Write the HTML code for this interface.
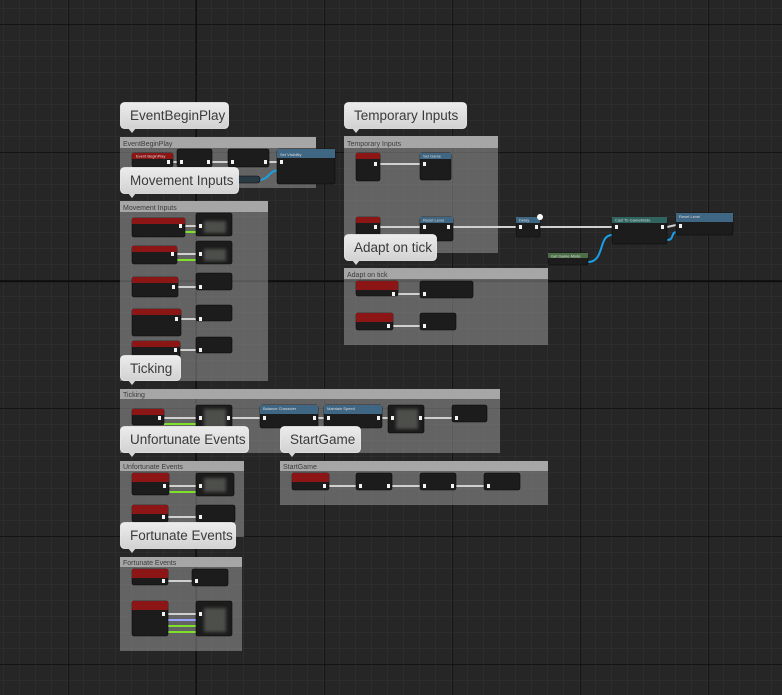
<!DOCTYPE html>
<html><head><meta charset="utf-8"><style>
html,body{margin:0;padding:0;width:782px;height:695px;overflow:hidden;background:#262626}
svg{display:block}
.b{font-family:"Liberation Sans",sans-serif;font-size:13.5px;fill:#3a3a3a}
.h{font-family:"Liberation Sans",sans-serif;font-size:7px;fill:#3c3c3c}
.t{font-family:"Liberation Sans",sans-serif;font-size:4px;fill:#ddd}
</style></head><body>
<svg width="782" height="695" viewBox="0 0 782 695" xmlns="http://www.w3.org/2000/svg">
<defs>
<pattern id="mn" x="3" y="8" width="16" height="16" patternUnits="userSpaceOnUse">
<path d="M0 0H16M0 0V16" stroke="#343434" stroke-width="1" fill="none"/></pattern>
<pattern id="mj" x="68" y="24" width="128" height="128" patternUnits="userSpaceOnUse">
<path d="M0 0.5H128M0.5 0V128" stroke="#141414" stroke-width="1" fill="none"/></pattern>
<linearGradient id="bg" x1="0" y1="0" x2="0" y2="1"><stop offset="0" stop-color="#ececec"/><stop offset="1" stop-color="#d2d2d2"/></linearGradient>
<filter id="bl"><feGaussianBlur stdDeviation="1.5"/></filter>
</defs>
<rect width="782" height="695" fill="#262626"/>
<rect width="782" height="695" fill="url(#mn)"/>
<rect width="782" height="695" fill="url(#mj)"/>
<path d="M196 0V695M0 281.5H782" stroke="#0e0e0e" stroke-width="1.5"/>

<!-- comment boxes -->
<g fill="rgba(150,150,150,0.55)">
<rect x="120" y="137" width="196" height="51"/>
<rect x="120" y="201" width="148" height="180"/>
<rect x="344" y="136" width="154" height="117"/>
<rect x="344" y="268" width="204" height="77"/>
<rect x="120" y="389" width="380" height="64"/>
<rect x="120" y="461" width="124" height="76"/>
<rect x="280" y="461" width="268" height="44"/>
<rect x="120" y="557" width="122" height="94"/>
</g>
<g fill="#a6a6a6">
<rect x="120" y="137" width="196" height="11"/>
<rect x="120" y="201" width="148" height="11"/>
<rect x="344" y="136" width="154" height="12"/>
<rect x="344" y="268" width="204" height="11"/>
<rect x="120" y="389" width="380" height="10"/>
<rect x="120" y="461" width="124" height="10"/>
<rect x="280" y="461" width="268" height="10"/>
<rect x="120" y="557" width="122" height="10"/>
</g>
<g class="h">
<text x="123" y="146">EventBeginPlay</text>
<text x="123" y="210">Movement Inputs</text>
<text x="347" y="146">Temporary Inputs</text>
<text x="347" y="277">Adapt on tick</text>
<text x="123" y="397">Ticking</text>
<text x="123" y="469">Unfortunate Events</text>
<text x="283" y="469">StartGame</text>
<text x="123" y="565">Fortunate Events</text>
</g>

<!-- wires -->
<g stroke="#d0d0d0" stroke-width="2" fill="none">
<path d="M173 162H177M212 162H228M269 162H277"/>
<path d="M185 226H196M177 254H196M178 287H196M181 319H196M180 350H196"/>
<path d="M380 164H420M380 227H420M453 227H516M540 227H612M667 227L676 225"/>
<path d="M398 294H420M393 326H420"/>
<path d="M164 418H196M232 418H260M318 418H324M382 418H388M424 418H452"/>
<path d="M169 486H196M168 517H196"/>
<path d="M329 486H356M392 486H420M456 486H484"/>
<path d="M168 581H192M168 614H196"/>
</g>
<g stroke="#7fe02a" stroke-width="2" fill="none">
<path d="M185 232H196M177 260H196M164 424H196M169 492H196M168 626H196M168 632H196"/>
</g>
<path d="M168 620H196" stroke="#9aa4ff" stroke-width="2"/>
<g stroke="#1aa0e8" stroke-width="2" fill="none">
<path d="M258 180C270 180 268 170 280 170"/>
<path d="M588 262C605 262 598 235 612 235"/>
<path d="M667 240C675 240 670 232 677 232"/>
</g>

<!-- nodes -->
<g>
<!-- helper style: body, header -->
<g fill="#1b1c1b" stroke="#0a0a0a" stroke-width="0.6">
<rect x="132" y="153" width="41" height="14" rx="2"/>
<rect x="177" y="149" width="35" height="18" rx="2"/>
<rect x="228" y="149" width="41" height="18" rx="2"/>
<rect x="277" y="149" width="58" height="35" rx="2"/>
<rect x="230" y="176" width="30" height="7" rx="3" fill="#2a3a44"/>
<rect x="132" y="218" width="53" height="19" rx="2"/>
<rect x="132" y="246" width="45" height="18" rx="2"/>
<rect x="132" y="277" width="46" height="20" rx="2"/>
<rect x="132" y="309" width="49" height="27" rx="2"/>
<rect x="132" y="341" width="48" height="24" rx="2"/>
<rect x="196" y="213" width="36" height="23" rx="2"/>
<rect x="196" y="241" width="36" height="23" rx="2"/>
<rect x="196" y="273" width="36" height="17" rx="2"/>
<rect x="196" y="305" width="36" height="16" rx="2"/>
<rect x="196" y="337" width="36" height="16" rx="2"/>
<rect x="356" y="153" width="24" height="28" rx="2"/>
<rect x="420" y="153" width="31" height="27" rx="2"/>
<rect x="356" y="217" width="24" height="28" rx="2"/>
<rect x="420" y="217" width="33" height="24" rx="2"/>
<rect x="516" y="217" width="24" height="20" rx="2"/>
<rect x="612" y="217" width="55" height="27" rx="2"/>
<rect x="676" y="213" width="57" height="22" rx="2"/>
<rect x="548" y="253" width="40" height="12" rx="2"/>
<rect x="356" y="281" width="42" height="15" rx="2"/>
<rect x="420" y="281" width="53" height="17" rx="2"/>
<rect x="356" y="313" width="37" height="17" rx="2"/>
<rect x="420" y="313" width="36" height="17" rx="2"/>
<rect x="132" y="409" width="32" height="16" rx="2"/>
<rect x="196" y="405" width="36" height="28" rx="2"/>
<rect x="260" y="405" width="58" height="23" rx="2"/>
<rect x="324" y="405" width="58" height="23" rx="2"/>
<rect x="388" y="405" width="36" height="28" rx="2"/>
<rect x="452" y="405" width="35" height="17" rx="2"/>
<rect x="132" y="473" width="37" height="22" rx="2"/>
<rect x="196" y="473" width="38" height="23" rx="2"/>
<rect x="132" y="505" width="36" height="17" rx="2"/>
<rect x="196" y="505" width="39" height="17" rx="2"/>
<rect x="292" y="473" width="37" height="17" rx="2"/>
<rect x="356" y="473" width="36" height="17" rx="2"/>
<rect x="420" y="473" width="36" height="17" rx="2"/>
<rect x="484" y="473" width="36" height="17" rx="2"/>
<rect x="132" y="569" width="36" height="16" rx="2"/>
<rect x="192" y="569" width="36" height="17" rx="2"/>
<rect x="132" y="601" width="36" height="35" rx="2"/>
<rect x="196" y="601" width="36" height="35" rx="2"/>
</g>
<!-- red headers -->
<g fill="#8c1616">
<rect x="132" y="153" width="41" height="6"/>
<rect x="132" y="218" width="53" height="6"/>
<rect x="132" y="246" width="45" height="6"/>
<rect x="132" y="277" width="46" height="6"/>
<rect x="132" y="309" width="49" height="6"/>
<rect x="132" y="341" width="48" height="6"/>
<rect x="356" y="153" width="24" height="6"/>
<rect x="356" y="217" width="24" height="6"/>
<rect x="356" y="281" width="42" height="9"/>
<rect x="356" y="313" width="37" height="9"/>
<rect x="132" y="409" width="32" height="6"/>
<rect x="132" y="473" width="37" height="9"/>
<rect x="132" y="505" width="36" height="9"/>
<rect x="292" y="473" width="37" height="9"/>
<rect x="132" y="569" width="36" height="9"/>
<rect x="132" y="601" width="36" height="9"/>
</g>
<g fill="#3f6682">
<rect x="277" y="149" width="58" height="9"/>
<rect x="420" y="153" width="31" height="6"/>
<rect x="420" y="217" width="33" height="6"/>
<rect x="516" y="217" width="24" height="6"/>
<rect x="676" y="213" width="57" height="9"/>
<rect x="260" y="405" width="58" height="9"/>
<rect x="324" y="405" width="58" height="9"/>
</g>
<rect x="612" y="217" width="55" height="6" fill="#2f6460"/>
<rect x="548" y="253" width="40" height="5" fill="#4d6f48"/>
<!-- blurry insides -->
<g fill="#5a5b58" filter="url(#bl)" opacity="0.8">
<rect x="204" y="221" width="22" height="12"/><rect x="204" y="249" width="22" height="12"/>
<rect x="204" y="409" width="22" height="20"/><rect x="396" y="409" width="22" height="20"/>
<rect x="204" y="478" width="22" height="14"/><rect x="204" y="608" width="22" height="24"/>
</g>
<!-- pins -->
<g fill="#f2f2f2">
<rect x="167" y="160" width="3" height="4"/><rect x="180" y="160" width="3" height="4"/><rect x="207" y="160" width="3" height="4"/>
<rect x="231" y="160" width="3" height="4"/><rect x="264" y="160" width="3" height="4"/><rect x="280" y="160" width="3" height="4"/>
<rect x="179" y="224" width="3" height="4"/><rect x="199" y="224" width="3" height="4"/>
<rect x="171" y="252" width="3" height="4"/><rect x="199" y="252" width="3" height="4"/>
<rect x="172" y="285" width="3" height="4"/><rect x="199" y="285" width="3" height="4"/>
<rect x="175" y="317" width="3" height="4"/><rect x="199" y="317" width="3" height="4"/>
<rect x="174" y="348" width="3" height="4"/><rect x="199" y="348" width="3" height="4"/>
<rect x="374" y="162" width="3" height="4"/><rect x="423" y="162" width="3" height="4"/>
<rect x="374" y="225" width="3" height="4"/><rect x="423" y="225" width="3" height="4"/><rect x="447" y="225" width="3" height="4"/>
<rect x="519" y="225" width="3" height="4"/><rect x="535" y="225" width="3" height="4"/>
<rect x="615" y="225" width="3" height="4"/><rect x="661" y="225" width="3" height="4"/><rect x="679" y="224" width="3" height="4"/>
<rect x="392" y="292" width="3" height="4"/><rect x="423" y="292" width="3" height="4"/>
<rect x="387" y="324" width="3" height="4"/><rect x="423" y="324" width="3" height="4"/>
<rect x="158" y="416" width="3" height="4"/><rect x="199" y="416" width="3" height="4"/><rect x="227" y="416" width="3" height="4"/>
<rect x="263" y="416" width="3" height="4"/><rect x="313" y="416" width="3" height="4"/><rect x="327" y="416" width="3" height="4"/>
<rect x="377" y="416" width="3" height="4"/><rect x="391" y="416" width="3" height="4"/><rect x="419" y="416" width="3" height="4"/><rect x="455" y="416" width="3" height="4"/>
<rect x="163" y="484" width="3" height="4"/><rect x="199" y="484" width="3" height="4"/>
<rect x="162" y="515" width="3" height="4"/><rect x="199" y="515" width="3" height="4"/>
<rect x="323" y="484" width="3" height="4"/><rect x="359" y="484" width="3" height="4"/><rect x="387" y="484" width="3" height="4"/>
<rect x="423" y="484" width="3" height="4"/><rect x="451" y="484" width="3" height="4"/><rect x="487" y="484" width="3" height="4"/>
<rect x="162" y="579" width="3" height="4"/><rect x="195" y="579" width="3" height="4"/>
<rect x="162" y="612" width="3" height="4"/><rect x="199" y="612" width="3" height="4"/>
</g>
<circle cx="540" cy="217" r="3" fill="#fff"/>
<g class="t">
<text x="136" y="157.5">Event BeginPlay</text><text x="280" y="156">Set Visibility</text>
<text x="423" y="157.5">Set Game</text><text x="423" y="221.5">Reset Level</text>
<text x="615" y="221.5">Cast To GameMode</text><text x="679" y="218">Reset Level</text>
<text x="519" y="221.5">Delay</text><text x="551" y="257.5">Get Game Mode</text>
<text x="263" y="410">Balance Character</text><text x="327" y="410">Maintain Speed</text>
</g>
</g>

<!-- bubbles -->
<g>
<g fill="url(#bg)" stroke="#f4f4f4" stroke-width="0.8">
<rect x="120.5" y="102.5" width="108" height="26" rx="4"/>
<rect x="344.5" y="102.5" width="122" height="26" rx="4"/>
<rect x="120.5" y="167.5" width="118" height="26" rx="4"/>
<rect x="344.5" y="234.5" width="92" height="26" rx="4"/>
<rect x="120.5" y="355.5" width="60" height="25" rx="4"/>
<rect x="120.5" y="426.5" width="128" height="26" rx="4"/>
<rect x="280.5" y="426.5" width="80" height="26" rx="4"/>
<rect x="120.5" y="522.5" width="115" height="26" rx="4"/>
</g>
<g fill="#d6d6d6">
<path d="M128 128h8l-4 5z"/><path d="M352 128h8l-4 5z"/><path d="M128 193h8l-4 5z"/>
<path d="M352 260h8l-4 5z"/><path d="M128 380h8l-4 5z"/><path d="M128 452h8l-4 5z"/>
<path d="M288 452h8l-4 5z"/><path d="M128 548h8l-4 5z"/>
</g>
<g class="b">
<text x="130" y="120">EventBeginPlay</text>
<text x="354" y="120">Temporary Inputs</text>
<text x="130" y="185">Movement Inputs</text>
<text x="354" y="252">Adapt on tick</text>
<text x="130" y="373">Ticking</text>
<text x="130" y="444">Unfortunate Events</text>
<text x="290" y="444">StartGame</text>
<text x="130" y="540">Fortunate Events</text>
</g>
</g>
</svg>
</body></html>
